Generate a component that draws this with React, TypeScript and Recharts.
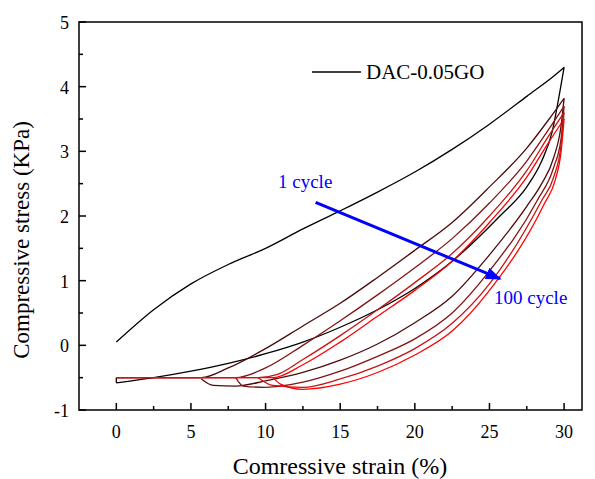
import * as React from 'react';
import { LineChart, Line, XAxis, YAxis, ReferenceArea } from 'recharts';

// strain (%) / stress (KPa); loading and unloading branches
// are both listed with strain increasing so they can be drawn as smooth curves
const c1LoadStrain = [0, 2.5, 5, 7.5, 10, 12.5, 15, 17.5, 20, 22.5, 25, 27.5, 29.5, 30];
const c1LoadStress = [0.05, 0.55, 0.95, 1.25, 1.5, 1.8, 2.08, 2.37, 2.68, 3.03, 3.42, 3.85, 4.2, 4.3];
const c1UnloadStrain = [0, 2.5, 5, 7.5, 10, 12.5, 15, 17.5, 20, 22.5, 25.7, 27.5, 28.5, 29.2, 29.7, 30];
const c1UnloadStress = [-0.58, -0.5, -0.4, -0.28, -0.13, 0.05, 0.28, 0.55, 0.88, 1.3, 2.0, 2.45, 2.85, 3.3, 3.9, 4.3];
const c1EndStrain = [0, 0];
const c1EndStress = [-0.58, -0.5];

const c2LoadStrain = [0, 5.7, 7.5, 10, 12.5, 15, 17.5, 20, 22.5, 25, 27.5, 29, 30];
const c2LoadStress = [-0.5, -0.5, -0.35, -0.05, 0.3, 0.65, 1.05, 1.47, 1.9, 2.45, 3.05, 3.5, 3.82];
const c2UnloadStrain = [5.7, 6.5, 8, 10, 12.5, 15, 17.5, 20, 22.5, 25, 27.5, 28.5, 29.3, 29.8, 30];
const c2UnloadStress = [-0.52, -0.62, -0.63, -0.55, -0.42, -0.23, 0.02, 0.35, 0.76, 1.4, 2.15, 2.5, 2.9, 3.4, 3.82];

const c3LoadStrain = [0, 8, 10, 12.5, 15, 17.5, 20, 22.5, 25, 27.5, 29, 30];
const c3LoadStress = [-0.5, -0.5, -0.35, 0.0, 0.38, 0.78, 1.2, 1.65, 2.2, 2.85, 3.35, 3.7];
const c3UnloadStrain = [8, 8.5, 10, 12.5, 15, 17.5, 20, 22.5, 25, 28.2, 29.3, 29.8, 30];
const c3UnloadStress = [-0.5, -0.63, -0.65, -0.57, -0.4, -0.17, 0.1, 0.5, 1.15, 2.24, 2.75, 3.2, 3.7];

const c4LoadStrain = [0, 9.5, 10.8, 12.5, 15, 17.5, 20, 22.5, 25, 27.5, 29, 30];
const c4LoadStress = [-0.5, -0.5, -0.45, -0.22, 0.15, 0.55, 0.97, 1.42, 2.0, 2.7, 3.25, 3.6];
const c4UnloadStrain = [9.5, 10.5, 12.5, 15, 17.5, 20, 22.5, 25, 28.5, 29.3, 29.8, 30];
const c4UnloadStress = [-0.5, -0.62, -0.65, -0.52, -0.32, -0.05, 0.34, 0.95, 2.24, 2.6, 3.1, 3.6];

const c5LoadStrain = [0, 10.5, 12.5, 15, 17.5, 20, 22.5, 25, 27.5, 29, 30];
const c5LoadStress = [-0.5, -0.5, -0.3, 0.05, 0.45, 0.85, 1.3, 1.9, 2.6, 3.15, 3.5];
const c5UnloadStrain = [10.5, 11, 12.5, 15, 17.5, 20, 22.5, 25, 28.7, 29.4, 29.8, 30];
const c5UnloadStress = [-0.5, -0.6, -0.68, -0.6, -0.42, -0.15, 0.22, 0.85, 2.2, 2.55, 3.0, 3.5];

const arrowStrain = [13.35, 25.7];
const arrowStress = [2.21, 1.03];

const strainTicks = [0, 2.5, 5, 7.5, 10, 12.5, 15, 17.5, 20, 22.5, 25, 27.5, 30];
const stressTicks = [-1, -0.5, 0, 0.5, 1, 1.5, 2, 2.5, 3, 3.5, 4, 4.5, 5];

const zip = (xs: number[], ys: number[]) => xs.map((x, i) => ({ x, y: ys[i] }));

const curves = [
  { key: 'c1l', data: zip(c1LoadStrain, c1LoadStress), color: '#000000', type: 'monotoneX' },
  { key: 'c1u', data: zip(c1UnloadStrain, c1UnloadStress), color: '#000000', type: 'monotoneX' },
  { key: 'c1e', data: zip(c1EndStrain, c1EndStress), color: '#000000', type: 'linear' },
  { key: 'c2u', data: zip(c2UnloadStrain, c2UnloadStress), color: '#4e0b0b', type: 'monotoneX' },
  { key: 'c2l', data: zip(c2LoadStrain, c2LoadStress), color: '#4e0b0b', type: 'monotoneX' },
  { key: 'c3u', data: zip(c3UnloadStrain, c3UnloadStress), color: '#821414', type: 'monotoneX' },
  { key: 'c3l', data: zip(c3LoadStrain, c3LoadStress), color: '#821414', type: 'monotoneX' },
  { key: 'c4u', data: zip(c4UnloadStrain, c4UnloadStress), color: '#c41414', type: 'monotoneX' },
  { key: 'c4l', data: zip(c4LoadStrain, c4LoadStress), color: '#c41414', type: 'monotoneX' },
  { key: 'c5u', data: zip(c5UnloadStrain, c5UnloadStress), color: '#ff0000', type: 'monotoneX' },
  { key: 'c5l', data: zip(c5LoadStrain, c5LoadStress), color: '#ff0000', type: 'monotoneX' },
];

const FONT = '"Liberation Serif", "DejaVu Serif", "Times New Roman", serif';

const XTick = (props: any) => {
  const { x, y, payload } = props;
  const major = payload.value % 5 === 0;
  return (
    <g>
      <line x1={x} x2={x} y1={y} y2={y - (major ? 7 : 4)} stroke="#000" strokeWidth={1.5} />
      {major && (
        <text x={x} y={y + 28} textAnchor="middle" style={{ fontFamily: FONT, fontSize: 18 }} fill="#000">
          {payload.value}
        </text>
      )}
    </g>
  );
};

const YTick = (props: any) => {
  const { x, y, payload } = props;
  const major = Number.isInteger(payload.value);
  return (
    <g>
      <line x1={x} x2={x + (major ? 7 : 4)} y1={y} y2={y} stroke="#000" strokeWidth={1.5} />
      {major && (
        <text x={x - 10} y={y + 7} textAnchor="end" style={{ fontFamily: FONT, fontSize: 18 }} fill="#000">
          {payload.value}
        </text>
      )}
    </g>
  );
};

export default function App() {
  return (
    <div style={{ position: 'absolute', left: 0, top: 0, width: 595, height: 479, background: '#fff', fontFamily: FONT }}>
      <svg width={0} height={0} style={{ position: 'absolute' }}>
        <defs>
          <marker id="arrowHead" markerWidth={16} markerHeight={12} refX={14} refY={6}
            orient="auto" markerUnits="userSpaceOnUse">
            <path d="M0,0 L16,6 L0,12 z" fill="#0000ff" />
          </marker>
        </defs>
      </svg>
      <LineChart width={595} height={479} margin={{ top: 22, right: 13, left: 19, bottom: 19 }}>
        <XAxis dataKey="x" type="number" domain={[-2.5, 31.2]} ticks={strainTicks}
          allowDataOverflow interval={0} tickSize={0} tickMargin={0} tickLine={false}
          tick={<XTick />} axisLine={false} height={50} />
        <YAxis type="number" domain={[-1, 5]} ticks={stressTicks} allowDataOverflow interval={0}
          tickSize={0} tickMargin={0} tickLine={false} tick={<YTick />} axisLine={false} width={60} />
        <ReferenceArea x1={-2.5} x2={31.2} y1={-1} y2={5} fill="none" stroke="#000"
          strokeWidth={1.5} fillOpacity={0} />
        {curves.map((c) => (
          <Line key={c.key} data={c.data} dataKey="y" type={c.type as any} stroke={c.color}
            strokeWidth={1.3} dot={false} isAnimationActive={false} />
        ))}
        <Line data={zip(arrowStrain, arrowStress)} dataKey="y" type="linear" stroke="#0000ff"
          strokeWidth={3} dot={false} isAnimationActive={false} markerEnd="url(#arrowHead)" />
      </LineChart>
      <svg width={595} height={479} style={{ position: 'absolute', left: 0, top: 0, pointerEvents: 'none' }}>
        <line x1={312} x2={361} y1={72} y2={72} stroke="#000" strokeWidth={1.5} />
        <text x={366} y={79} style={{ fontFamily: FONT, fontSize: 21 }} fill="#000">DAC-0.05GO</text>
        <text x={278} y={188} style={{ fontFamily: FONT, fontSize: 19 }} fill="#0000ff">1 cycle</text>
        <text x={494} y={304} style={{ fontFamily: FONT, fontSize: 19 }} fill="#0000ff">100 cycle</text>
        <text x={340} y={474} textAnchor="middle" style={{ fontFamily: FONT, fontSize: 24 }} fill="#000">
          Comressive strain (%)
        </text>
        <text x={0} y={0} transform="translate(29,240) rotate(-90)" textAnchor="middle"
          style={{ fontFamily: FONT, fontSize: 23 }} fill="#000">
          Compressive stress (KPa)
        </text>
      </svg>
    </div>
  );
}
